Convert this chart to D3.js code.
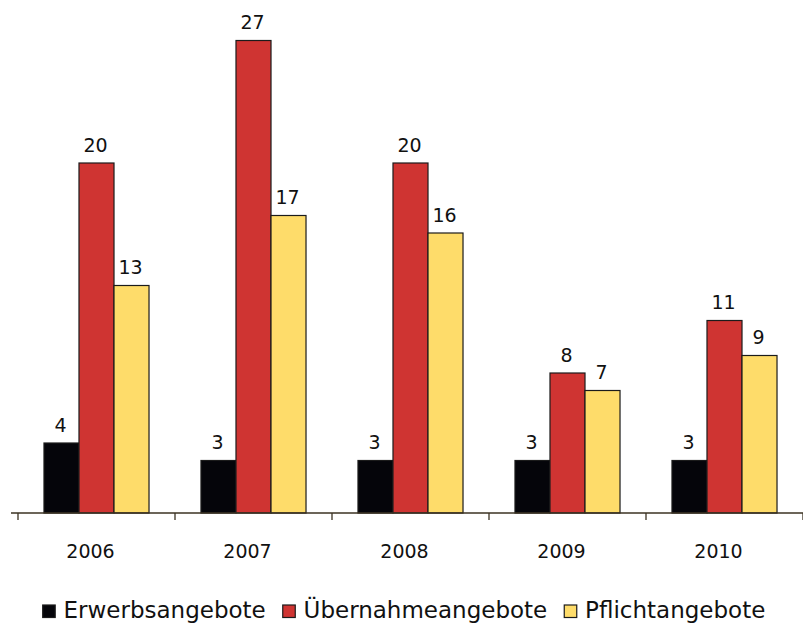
<!DOCTYPE html>
<html>
<head>
<meta charset="utf-8">
<script src="https://cdn.jsdelivr.net/npm/d3@7"></script>
<style>
html,body{margin:0;padding:0;background:#fff;}
svg{display:block;font-family:"DejaVu Sans",Verdana,sans-serif;}
</style>
</head>
<body>
<svg id="chart" width="803" height="624"></svg>
<script>
const years = ["2006","2007","2008","2009","2010"];
const seriesNames = ["Erwerbsangebote","Übernahmeangebote","Pflichtangebote"];
const erwerbsangebote = [4,3,3,3,3];
const uebernahmeangebote = [20,27,20,8,11];
const pflichtangebote = [13,17,16,7,9];
const seriesValues = [erwerbsangebote, uebernahmeangebote, pflichtangebote];
const colors = ["#05050a","#cf3432","#fedc6a"];

const svg = d3.select("#chart");
const left = 18, right = 803, baseY = 513;

const pad = 0.331;
const x0 = d3.scaleBand().domain(years).range([left, right]).paddingInner(pad).paddingOuter(pad/2);
const x1 = d3.scaleBand().domain(seriesNames).range([0, x0.bandwidth()]);
const y = d3.scaleLinear().domain([0, 27]).range([baseY, baseY - 27*17.5]);

const rows = years.map((yr,i)=>({year:yr, vals: seriesNames.map((s,j)=>({series:s, idx:j, v:seriesValues[j][i]}))}));

const g = svg.append("g");
const groups = g.selectAll("g.grp").data(rows).join("g").attr("class","grp")
  .attr("transform", d=>`translate(${x0(d.year)},0)`);

groups.selectAll("rect").data(d=>d.vals).join("rect")
  .attr("x", d=>x1(d.series))
  .attr("width", x1.bandwidth())
  .attr("y", d=>y(d.v))
  .attr("height", d=>baseY - y(d.v))
  .attr("fill", d=>colors[d.idx])
  .attr("stroke", "#1b1b1b")
  .attr("stroke-width", 1.2);

groups.selectAll("text").data(d=>d.vals).join("text")
  .attr("x", d=>x1(d.series) + x1.bandwidth()/2 - 1)
  .attr("y", d=>y(d.v) - 11.5)
  .attr("text-anchor","middle")
  .attr("font-size","19px")
  .attr("fill","#111")
  .text(d=>d.v);

// axis
const step = x0.step();
const edges = years.map(yr=>x0(yr) - step*pad/2).concat([right]);
svg.append("line").attr("x1",11).attr("x2",right).attr("y1",baseY).attr("y2",baseY)
  .attr("stroke","#3b3222").attr("stroke-width",1.6);
svg.selectAll("line.tick").data(edges).join("line").attr("class","tick")
  .attr("x1",d=>d).attr("x2",d=>d).attr("y1",baseY).attr("y2",baseY+7)
  .attr("stroke","#3b3222").attr("stroke-width",1.3);
svg.selectAll("text.xl").data(years).join("text").attr("class","xl")
  .attr("x", d=>x0(d)+x0.bandwidth()/2 - 6)
  .attr("y", 558)
  .attr("text-anchor","middle")
  .attr("font-size","19px")
  .attr("fill","#111")
  .text(d=>d);

// legend
const lg = svg.append("g");
const sq = 12.5, gapSq = 8.3, gapItem = 17;
let cx = 42.7;
seriesNames.forEach((s,i)=>{
  const it = lg.append("g");
  it.append("rect").attr("x",cx).attr("y",605).attr("width",sq).attr("height",sq)
    .attr("fill",colors[i]).attr("stroke","#1b1b1b").attr("stroke-width",1.2);
  const t = it.append("text").attr("x",cx+sq+gapSq).attr("y",618.3).attr("font-size","23px").attr("fill","#111").text(s);
  cx += sq + gapSq + t.node().getComputedTextLength() + gapItem;
});
</script>
</body>
</html>
